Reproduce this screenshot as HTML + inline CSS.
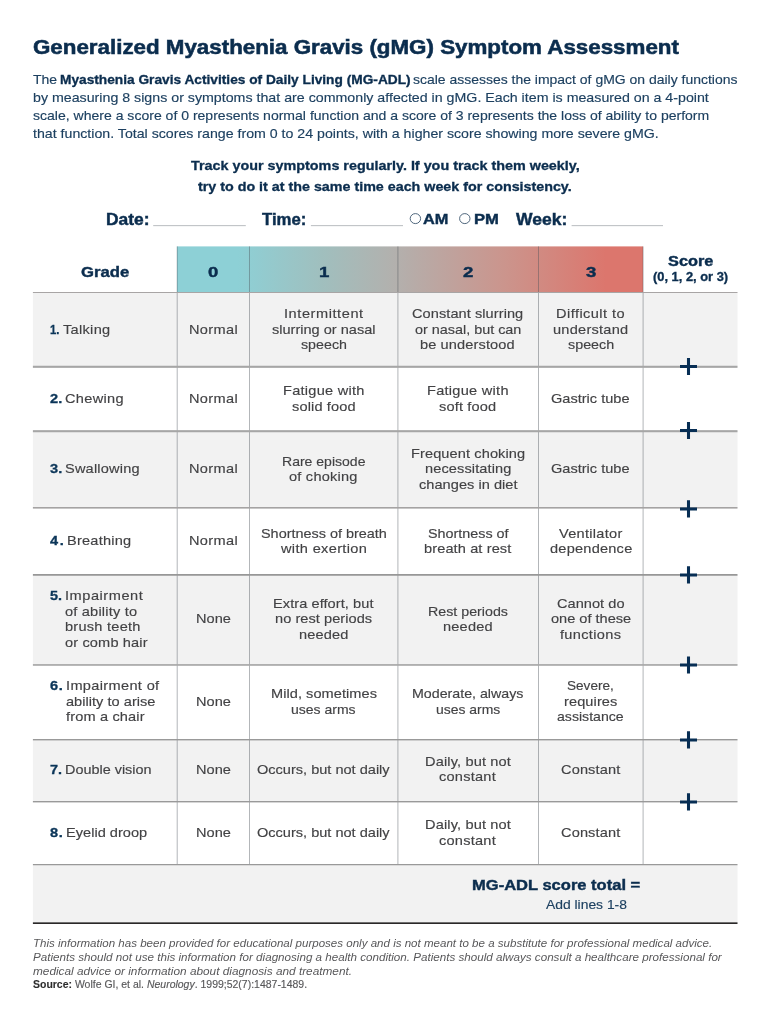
<!DOCTYPE html>
<html lang="en">
<head>
<meta charset="utf-8">
<title>Generalized Myasthenia Gravis (gMG) Symptom Assessment</title>
<style>
html,body{margin:0;padding:0;background:#fff;}
body{width:770px;height:1024px;position:relative;overflow:hidden;font-family:"Liberation Sans",sans-serif;}
#txt{position:absolute;left:0;top:0;width:770px;height:1024px;will-change:transform;}
.t{position:absolute;white-space:pre;line-height:1;transform-origin:0 0;font-family:"Liberation Sans",sans-serif;}
</style>
</head>
<body>
<svg width="770" height="1024" viewBox="0 0 770 1024" style="position:absolute;left:0;top:0">
<defs><linearGradient id="g" x1="0" y1="0" x2="1" y2="0"><stop offset="0" stop-color="#8dd0d6"/><stop offset="0.13" stop-color="#8dd0d6"/><stop offset="0.31" stop-color="#a0bfbe"/><stop offset="0.47" stop-color="#b3b0ad"/><stop offset="0.70" stop-color="#cb958d"/><stop offset="0.92" stop-color="#dc766d"/><stop offset="1" stop-color="#dc766d"/></linearGradient></defs>
<rect x="32.9" y="292.5" width="704.6" height="74.3" fill="#f2f2f2"/>
<rect x="32.9" y="431.2" width="704.6" height="76.6" fill="#f2f2f2"/>
<rect x="32.9" y="574.9" width="704.6" height="90.1" fill="#f2f2f2"/>
<rect x="32.9" y="739.7" width="704.6" height="62.0" fill="#f2f2f2"/>
<rect x="32.9" y="864.6" width="704.6" height="58.6" fill="#f2f2f2"/>
<rect x="177.0" y="246.4" width="466.0" height="46.1" fill="url(#g)"/>
<rect x="176.7" y="246.4" width="1" height="618.2" fill="#4a5058" fill-opacity="0.42"/>
<rect x="249.0" y="246.4" width="1" height="618.2" fill="#4a5058" fill-opacity="0.42"/>
<rect x="397.4" y="246.4" width="1" height="618.2" fill="#4a5058" fill-opacity="0.42"/>
<rect x="538.0" y="246.4" width="1" height="618.2" fill="#4a5058" fill-opacity="0.42"/>
<rect x="642.6" y="246.4" width="1" height="618.2" fill="#4a5058" fill-opacity="0.42"/>
<rect x="32.9" y="292.0" width="704.6" height="1.00" fill="#a8a5a5"/>
<rect x="32.9" y="365.75" width="704.6" height="2.10" fill="#a6a6a6"/>
<rect x="32.9" y="430.15" width="704.6" height="2.10" fill="#a6a6a6"/>
<rect x="32.9" y="507.0" width="704.6" height="1.60" fill="#a5a3a3"/>
<rect x="32.9" y="574.0" width="704.6" height="1.75" fill="#979797"/>
<rect x="32.9" y="664.1" width="704.6" height="1.70" fill="#a8a8a8"/>
<rect x="32.9" y="739.0" width="704.6" height="1.40" fill="#999999"/>
<rect x="32.9" y="801.0" width="704.6" height="1.40" fill="#999999"/>
<rect x="32.9" y="864.0" width="704.6" height="1.25" fill="#999999"/>
<rect x="32.9" y="922.35" width="704.6" height="1.65" fill="#2a2828"/>
<path d="M680.0 366.45H697.0M688.5 357.9V375.0" stroke="#072e54" stroke-width="3.05" fill="none"/>
<path d="M680.0 430.45H697.0M688.5 421.9V439.0" stroke="#072e54" stroke-width="3.05" fill="none"/>
<path d="M680.0 508.9H697.0M688.5 500.35V517.45" stroke="#072e54" stroke-width="3.05" fill="none"/>
<path d="M680.0 574.9H697.0M688.5 566.35V583.45" stroke="#072e54" stroke-width="3.05" fill="none"/>
<path d="M680.0 664.95H697.0M688.5 656.4V673.5" stroke="#072e54" stroke-width="3.05" fill="none"/>
<path d="M680.0 739.9H697.0M688.5 731.35V748.45" stroke="#072e54" stroke-width="3.05" fill="none"/>
<path d="M680.0 801.9H697.0M688.5 793.35V810.45" stroke="#072e54" stroke-width="3.05" fill="none"/>
<rect x="153.2" y="225.1" width="92.6" height="1.05" fill="#bcbfc2"/>
<rect x="310.9" y="225.1" width="92.1" height="1.05" fill="#bcbfc2"/>
<rect x="571.6" y="225.1" width="91.4" height="1.05" fill="#bcbfc2"/>
<ellipse cx="415.4" cy="218.6" rx="5.2" ry="5.0" fill="#fff" stroke="#3c566e" stroke-width="0.9"/>
<ellipse cx="464.8" cy="218.6" rx="5.2" ry="5.0" fill="#fff" stroke="#3c566e" stroke-width="0.9"/>
</svg>
<div id="txt">
<span class="t" style="left:32.90px;top:37px;font-size:20px;color:#0b2d4e;transform:scale(1.1168,1.000);transform-origin:0 17px;font-weight:700;-webkit-text-stroke:0.55px #0b2d4e;">Generalized Myasthenia Gravis (gMG) Symptom Assessment</span>
<span class="t" style="left:33.48px;top:73px;font-size:13px;color:#1d4060;transform:scale(1.0774,1.000);transform-origin:0 11px;-webkit-text-stroke:0.15px #1d4060;">The </span>
<span class="t" style="left:60.08px;top:73px;font-size:13px;color:#0b2d4e;transform:scale(1.0544,1.000);transform-origin:0 11px;font-weight:700;-webkit-text-stroke:0.32px #0b2d4e;">Myasthenia Gravis Activities of Daily Living (MG-ADL)</span>
<span class="t" style="left:413.49px;top:73px;font-size:13px;color:#1d4060;transform:scale(1.0741,1.000);transform-origin:0 11px;-webkit-text-stroke:0.15px #1d4060;">scale assesses the impact of gMG on daily functions</span>
<span class="t" style="left:33.48px;top:91px;font-size:13px;color:#1d4060;transform:scale(1.0931,1.000);transform-origin:0 11px;-webkit-text-stroke:0.15px #1d4060;">by measuring 8 signs or symptoms that are commonly affected in gMG. Each item is measured on a 4-point</span>
<span class="t" style="left:33.48px;top:109px;font-size:13px;color:#1d4060;transform:scale(1.0794,1.000);transform-origin:0 11px;-webkit-text-stroke:0.15px #1d4060;">scale, where a score of 0 represents normal function and a score of 3 represents the loss of ability to perform</span>
<span class="t" style="left:33.48px;top:127px;font-size:13px;color:#1d4060;transform:scale(1.0897,1.000);transform-origin:0 11px;-webkit-text-stroke:0.15px #1d4060;">that function. Total scores range from 0 to 24 points, with a higher score showing more severe gMG.</span>
<span class="t" style="left:191.28px;top:159px;font-size:13px;color:#0b2d4e;transform:scale(1.1040,1.000);transform-origin:0 11px;font-weight:700;-webkit-text-stroke:0.32px #0b2d4e;">Track your symptoms regularly. If you track them weekly,</span>
<span class="t" style="left:197.88px;top:180px;font-size:13px;color:#0b2d4e;transform:scale(1.0991,1.000);transform-origin:0 11px;font-weight:700;-webkit-text-stroke:0.32px #0b2d4e;">try to do it at the same time each week for consistency.</span>
<span class="t" style="left:106.12px;top:212px;font-size:16px;color:#0b2d4e;transform:scale(1.0886,1.030);transform-origin:0 13px;font-weight:700;-webkit-text-stroke:0.42px #0b2d4e;">Date:</span>
<span class="t" style="left:262.32px;top:212px;font-size:16px;color:#0b2d4e;transform:scale(1.0465,1.030);transform-origin:0 13px;font-weight:700;-webkit-text-stroke:0.42px #0b2d4e;">Time:</span>
<span class="t" style="left:423.48px;top:211px;font-size:15px;color:#0b2d4e;transform:scale(1.0910,1.000);transform-origin:0 13px;font-weight:700;-webkit-text-stroke:0.42px #0b2d4e;">AM</span>
<span class="t" style="left:474.18px;top:211px;font-size:15px;color:#0b2d4e;transform:scale(1.1089,1.000);transform-origin:0 13px;font-weight:700;-webkit-text-stroke:0.42px #0b2d4e;">PM</span>
<span class="t" style="left:516.12px;top:212px;font-size:16px;color:#0b2d4e;transform:scale(1.0943,1.030);transform-origin:0 13px;font-weight:700;-webkit-text-stroke:0.42px #0b2d4e;">Week:</span>
<span class="t" style="left:80.58px;top:264px;font-size:15px;color:#0b2d4e;transform:scale(1.1105,1.030);transform-origin:0 13px;font-weight:700;-webkit-text-stroke:0.42px #0b2d4e;">Grade</span>
<span class="t" style="left:208.08px;top:264px;font-size:15px;color:#0b2d4e;transform:scale(1.2400,1.030);transform-origin:0 13px;font-weight:700;-webkit-text-stroke:0.42px #0b2d4e;">0</span>
<span class="t" style="left:318.53px;top:264px;font-size:15px;color:#0b2d4e;transform:scale(1.2400,1.030);transform-origin:0 13px;font-weight:700;-webkit-text-stroke:0.42px #0b2d4e;">1</span>
<span class="t" style="left:463.03px;top:264px;font-size:15px;color:#0b2d4e;transform:scale(1.2400,1.030);transform-origin:0 13px;font-weight:700;-webkit-text-stroke:0.42px #0b2d4e;">2</span>
<span class="t" style="left:585.58px;top:264px;font-size:15px;color:#0b2d4e;transform:scale(1.2400,1.030);transform-origin:0 13px;font-weight:700;-webkit-text-stroke:0.42px #0b2d4e;">3</span>
<span class="t" style="left:667.53px;top:253px;font-size:15px;color:#0b2d4e;transform:scale(1.0874,1.030);transform-origin:0 13px;font-weight:700;-webkit-text-stroke:0.42px #0b2d4e;">Score</span>
<span class="t" style="left:652.74px;top:271px;font-size:12px;color:#0b2d4e;transform:scale(1.0727,1.000);transform-origin:0 10px;font-weight:700;-webkit-text-stroke:0.32px #0b2d4e;">(0, 1, 2, or 3)</span>
<span class="t" style="left:62.88px;top:323px;font-size:13px;color:#424244;letter-spacing:0.269px;transform:scale(1.1200,1.000);transform-origin:0 11px;-webkit-text-stroke:0.15px #424244;">Talking</span>
<span class="t" style="left:50.18px;top:323px;font-size:13px;color:#0b3558;transform:scale(0.8696,1.000);transform-origin:0 11px;font-weight:700;-webkit-text-stroke:0.32px #0b3558;">1.</span>
<span class="t" style="left:188.94px;top:323px;font-size:13px;color:#424244;letter-spacing:0.303px;transform:scale(1.1200,1.000);transform-origin:0 11px;-webkit-text-stroke:0.15px #424244;">Normal</span>
<span class="t" style="left:284.13px;top:307px;font-size:13px;color:#424244;letter-spacing:0.511px;transform:scale(1.1200,1.000);transform-origin:0 11px;-webkit-text-stroke:0.15px #424244;">Intermittent</span>
<span class="t" style="left:271.94px;top:323px;font-size:13px;color:#424244;transform:scale(1.1192,1.000);transform-origin:0 11px;-webkit-text-stroke:0.15px #424244;">slurring or nasal</span>
<span class="t" style="left:300.74px;top:338px;font-size:13px;color:#424244;transform:scale(1.0956,1.000);transform-origin:0 11px;-webkit-text-stroke:0.15px #424244;">speech</span>
<span class="t" style="left:412.19px;top:307px;font-size:13px;color:#424244;letter-spacing:0.064px;transform:scale(1.1200,1.000);transform-origin:0 11px;-webkit-text-stroke:0.15px #424244;">Constant slurring</span>
<span class="t" style="left:414.63px;top:323px;font-size:13px;color:#424244;transform:scale(1.1062,1.000);transform-origin:0 11px;-webkit-text-stroke:0.15px #424244;">or nasal, but can</span>
<span class="t" style="left:420.49px;top:338px;font-size:13px;color:#424244;letter-spacing:0.114px;transform:scale(1.1200,1.000);transform-origin:0 11px;-webkit-text-stroke:0.15px #424244;">be understood</span>
<span class="t" style="left:556.43px;top:307px;font-size:13px;color:#424244;letter-spacing:0.403px;transform:scale(1.1200,1.000);transform-origin:0 11px;-webkit-text-stroke:0.15px #424244;">Difficult to</span>
<span class="t" style="left:553.18px;top:323px;font-size:13px;color:#424244;letter-spacing:0.224px;transform:scale(1.1200,1.000);transform-origin:0 11px;-webkit-text-stroke:0.15px #424244;">understand</span>
<span class="t" style="left:567.63px;top:338px;font-size:13px;color:#424244;transform:scale(1.1028,1.000);transform-origin:0 11px;-webkit-text-stroke:0.15px #424244;">speech</span>
<span class="t" style="left:64.58px;top:392px;font-size:13px;color:#424244;letter-spacing:0.278px;transform:scale(1.1200,1.000);transform-origin:0 11px;-webkit-text-stroke:0.15px #424244;">Chewing</span>
<span class="t" style="left:50.18px;top:392px;font-size:13px;color:#0b3558;letter-spacing:0.165px;transform:scale(1.1200,1.000);transform-origin:0 11px;font-weight:700;-webkit-text-stroke:0.32px #0b3558;">2.</span>
<span class="t" style="left:188.94px;top:392px;font-size:13px;color:#424244;letter-spacing:0.303px;transform:scale(1.1200,1.000);transform-origin:0 11px;-webkit-text-stroke:0.15px #424244;">Normal</span>
<span class="t" style="left:283.03px;top:384px;font-size:13px;color:#424244;letter-spacing:0.229px;transform:scale(1.1200,1.000);transform-origin:0 11px;-webkit-text-stroke:0.15px #424244;">Fatigue with</span>
<span class="t" style="left:291.94px;top:400px;font-size:13px;color:#424244;letter-spacing:0.119px;transform:scale(1.1200,1.000);transform-origin:0 11px;-webkit-text-stroke:0.15px #424244;">solid food</span>
<span class="t" style="left:427.04px;top:384px;font-size:13px;color:#424244;letter-spacing:0.246px;transform:scale(1.1200,1.000);transform-origin:0 11px;-webkit-text-stroke:0.15px #424244;">Fatigue with</span>
<span class="t" style="left:439.24px;top:400px;font-size:13px;color:#424244;letter-spacing:0.142px;transform:scale(1.1200,1.000);transform-origin:0 11px;-webkit-text-stroke:0.15px #424244;">soft food</span>
<span class="t" style="left:551.49px;top:392px;font-size:13px;color:#424244;transform:scale(1.1200,1.000);transform-origin:0 11px;-webkit-text-stroke:0.15px #424244;">Gastric tube</span>
<span class="t" style="left:64.58px;top:462px;font-size:13px;color:#424244;letter-spacing:0.166px;transform:scale(1.1200,1.000);transform-origin:0 11px;-webkit-text-stroke:0.15px #424244;">Swallowing</span>
<span class="t" style="left:50.18px;top:462px;font-size:13px;color:#0b3558;letter-spacing:0.165px;transform:scale(1.1200,1.000);transform-origin:0 11px;font-weight:700;-webkit-text-stroke:0.32px #0b3558;">3.</span>
<span class="t" style="left:188.94px;top:462px;font-size:13px;color:#424244;letter-spacing:0.303px;transform:scale(1.1200,1.000);transform-origin:0 11px;-webkit-text-stroke:0.15px #424244;">Normal</span>
<span class="t" style="left:281.99px;top:455px;font-size:13px;color:#424244;transform:scale(1.0789,1.000);transform-origin:0 11px;-webkit-text-stroke:0.15px #424244;">Rare episode</span>
<span class="t" style="left:289.49px;top:470px;font-size:13px;color:#424244;letter-spacing:0.204px;transform:scale(1.1200,1.000);transform-origin:0 11px;-webkit-text-stroke:0.15px #424244;">of choking</span>
<span class="t" style="left:410.74px;top:447px;font-size:13px;color:#424244;letter-spacing:0.097px;transform:scale(1.1200,1.000);transform-origin:0 11px;-webkit-text-stroke:0.15px #424244;">Frequent choking</span>
<span class="t" style="left:424.59px;top:462px;font-size:13px;color:#424244;letter-spacing:0.107px;transform:scale(1.1200,1.000);transform-origin:0 11px;-webkit-text-stroke:0.15px #424244;">necessitating</span>
<span class="t" style="left:418.54px;top:478px;font-size:13px;color:#424244;letter-spacing:0.037px;transform:scale(1.1200,1.000);transform-origin:0 11px;-webkit-text-stroke:0.15px #424244;">changes in diet</span>
<span class="t" style="left:551.49px;top:462px;font-size:13px;color:#424244;transform:scale(1.1200,1.000);transform-origin:0 11px;-webkit-text-stroke:0.15px #424244;">Gastric tube</span>
<span class="t" style="left:67.19px;top:534px;font-size:13px;color:#424244;letter-spacing:0.211px;transform:scale(1.1200,1.000);transform-origin:0 11px;-webkit-text-stroke:0.15px #424244;">Breathing</span>
<span class="t" style="left:50.18px;top:534px;font-size:13px;color:#0b3558;letter-spacing:1.415px;transform:scale(1.1200,1.000);transform-origin:0 11px;font-weight:700;-webkit-text-stroke:0.32px #0b3558;">4.</span>
<span class="t" style="left:188.94px;top:534px;font-size:13px;color:#424244;letter-spacing:0.303px;transform:scale(1.1200,1.000);transform-origin:0 11px;-webkit-text-stroke:0.15px #424244;">Normal</span>
<span class="t" style="left:260.78px;top:527px;font-size:13px;color:#424244;transform:scale(1.1089,1.000);transform-origin:0 11px;-webkit-text-stroke:0.15px #424244;">Shortness of breath</span>
<span class="t" style="left:280.78px;top:542px;font-size:13px;color:#424244;letter-spacing:0.304px;transform:scale(1.1200,1.000);transform-origin:0 11px;-webkit-text-stroke:0.15px #424244;">with exertion</span>
<span class="t" style="left:427.54px;top:527px;font-size:13px;color:#424244;transform:scale(1.1032,1.000);transform-origin:0 11px;-webkit-text-stroke:0.15px #424244;">Shortness of</span>
<span class="t" style="left:424.13px;top:542px;font-size:13px;color:#424244;letter-spacing:0.105px;transform:scale(1.1200,1.000);transform-origin:0 11px;-webkit-text-stroke:0.15px #424244;">breath at rest</span>
<span class="t" style="left:559.13px;top:527px;font-size:13px;color:#424244;letter-spacing:0.250px;transform:scale(1.1200,1.000);transform-origin:0 11px;-webkit-text-stroke:0.15px #424244;">Ventilator</span>
<span class="t" style="left:549.63px;top:542px;font-size:13px;color:#424244;letter-spacing:0.205px;transform:scale(1.1200,1.000);transform-origin:0 11px;-webkit-text-stroke:0.15px #424244;">dependence</span>
<span class="t" style="left:64.58px;top:589px;font-size:13px;color:#424244;letter-spacing:0.486px;transform:scale(1.1200,1.000);transform-origin:0 11px;-webkit-text-stroke:0.15px #424244;">Impairment</span>
<span class="t" style="left:64.58px;top:605px;font-size:13px;color:#424244;letter-spacing:0.180px;transform:scale(1.1200,1.000);transform-origin:0 11px;-webkit-text-stroke:0.15px #424244;">of ability to</span>
<span class="t" style="left:64.58px;top:620px;font-size:13px;color:#424244;letter-spacing:0.230px;transform:scale(1.1200,1.000);transform-origin:0 11px;-webkit-text-stroke:0.15px #424244;">brush teeth</span>
<span class="t" style="left:64.58px;top:636px;font-size:13px;color:#424244;letter-spacing:0.131px;transform:scale(1.1200,1.000);transform-origin:0 11px;-webkit-text-stroke:0.15px #424244;">or comb hair</span>
<span class="t" style="left:50.18px;top:589px;font-size:13px;color:#0b3558;transform:scale(1.1094,1.000);transform-origin:0 11px;font-weight:700;-webkit-text-stroke:0.32px #0b3558;">5.</span>
<span class="t" style="left:195.84px;top:612px;font-size:13px;color:#424244;letter-spacing:0.007px;transform:scale(1.1200,1.000);transform-origin:0 11px;-webkit-text-stroke:0.15px #424244;">None</span>
<span class="t" style="left:273.49px;top:597px;font-size:13px;color:#424244;letter-spacing:0.064px;transform:scale(1.1200,1.000);transform-origin:0 11px;-webkit-text-stroke:0.15px #424244;">Extra effort, but</span>
<span class="t" style="left:275.13px;top:612px;font-size:13px;color:#424244;letter-spacing:0.052px;transform:scale(1.1200,1.000);transform-origin:0 11px;-webkit-text-stroke:0.15px #424244;">no rest periods</span>
<span class="t" style="left:299.03px;top:628px;font-size:13px;color:#424244;letter-spacing:0.131px;transform:scale(1.1200,1.000);transform-origin:0 11px;-webkit-text-stroke:0.15px #424244;">needed</span>
<span class="t" style="left:427.84px;top:605px;font-size:13px;color:#424244;transform:scale(1.0952,1.000);transform-origin:0 11px;-webkit-text-stroke:0.15px #424244;">Rest periods</span>
<span class="t" style="left:442.99px;top:620px;font-size:13px;color:#424244;letter-spacing:0.184px;transform:scale(1.1200,1.000);transform-origin:0 11px;-webkit-text-stroke:0.15px #424244;">needed</span>
<span class="t" style="left:556.99px;top:597px;font-size:13px;color:#424244;letter-spacing:0.037px;transform:scale(1.1200,1.000);transform-origin:0 11px;-webkit-text-stroke:0.15px #424244;">Cannot do</span>
<span class="t" style="left:550.63px;top:612px;font-size:13px;color:#424244;letter-spacing:0.006px;transform:scale(1.1200,1.000);transform-origin:0 11px;-webkit-text-stroke:0.15px #424244;">one of these</span>
<span class="t" style="left:560.28px;top:628px;font-size:13px;color:#424244;letter-spacing:0.294px;transform:scale(1.1200,1.000);transform-origin:0 11px;-webkit-text-stroke:0.15px #424244;">functions</span>
<span class="t" style="left:65.69px;top:679px;font-size:13px;color:#424244;letter-spacing:0.306px;transform:scale(1.1200,1.000);transform-origin:0 11px;-webkit-text-stroke:0.15px #424244;">Impairment of</span>
<span class="t" style="left:65.69px;top:695px;font-size:13px;color:#424244;letter-spacing:0.024px;transform:scale(1.1200,1.000);transform-origin:0 11px;-webkit-text-stroke:0.15px #424244;">ability to arise</span>
<span class="t" style="left:65.69px;top:710px;font-size:13px;color:#424244;letter-spacing:0.142px;transform:scale(1.1200,1.000);transform-origin:0 11px;-webkit-text-stroke:0.15px #424244;">from a chair</span>
<span class="t" style="left:50.18px;top:679px;font-size:13px;color:#0b3558;letter-spacing:0.612px;transform:scale(1.1200,1.000);transform-origin:0 11px;font-weight:700;-webkit-text-stroke:0.32px #0b3558;">6.</span>
<span class="t" style="left:195.84px;top:695px;font-size:13px;color:#424244;letter-spacing:0.007px;transform:scale(1.1200,1.000);transform-origin:0 11px;-webkit-text-stroke:0.15px #424244;">None</span>
<span class="t" style="left:270.74px;top:687px;font-size:13px;color:#424244;letter-spacing:0.047px;transform:scale(1.1200,1.000);transform-origin:0 11px;-webkit-text-stroke:0.15px #424244;">Mild, sometimes</span>
<span class="t" style="left:291.44px;top:703px;font-size:13px;color:#424244;transform:scale(1.0761,1.000);transform-origin:0 11px;-webkit-text-stroke:0.15px #424244;">uses arms</span>
<span class="t" style="left:412.09px;top:687px;font-size:13px;color:#424244;transform:scale(1.0936,1.000);transform-origin:0 11px;-webkit-text-stroke:0.15px #424244;">Moderate, always</span>
<span class="t" style="left:435.63px;top:703px;font-size:13px;color:#424244;transform:scale(1.0727,1.000);transform-origin:0 11px;-webkit-text-stroke:0.15px #424244;">uses arms</span>
<span class="t" style="left:567.34px;top:679px;font-size:13px;color:#424244;transform:scale(1.0450,1.000);transform-origin:0 11px;-webkit-text-stroke:0.15px #424244;">Severe,</span>
<span class="t" style="left:564.09px;top:695px;font-size:13px;color:#424244;letter-spacing:0.092px;transform:scale(1.1200,1.000);transform-origin:0 11px;-webkit-text-stroke:0.15px #424244;">requires</span>
<span class="t" style="left:557.43px;top:710px;font-size:13px;color:#424244;transform:scale(1.0848,1.000);transform-origin:0 11px;-webkit-text-stroke:0.15px #424244;">assistance</span>
<span class="t" style="left:65.19px;top:763px;font-size:13px;color:#424244;transform:scale(1.1087,1.000);transform-origin:0 11px;-webkit-text-stroke:0.15px #424244;">Double vision</span>
<span class="t" style="left:50.18px;top:763px;font-size:13px;color:#0b3558;transform:scale(1.1094,1.000);transform-origin:0 11px;font-weight:700;-webkit-text-stroke:0.32px #0b3558;">7.</span>
<span class="t" style="left:195.84px;top:763px;font-size:13px;color:#424244;letter-spacing:0.007px;transform:scale(1.1200,1.000);transform-origin:0 11px;-webkit-text-stroke:0.15px #424244;">None</span>
<span class="t" style="left:257.38px;top:763px;font-size:13px;color:#424244;transform:scale(1.1192,1.000);transform-origin:0 11px;-webkit-text-stroke:0.15px #424244;">Occurs, but not daily</span>
<span class="t" style="left:424.88px;top:755px;font-size:13px;color:#424244;letter-spacing:0.132px;transform:scale(1.1200,1.000);transform-origin:0 11px;-webkit-text-stroke:0.15px #424244;">Daily, but not</span>
<span class="t" style="left:439.44px;top:770px;font-size:13px;color:#424244;letter-spacing:0.214px;transform:scale(1.1200,1.000);transform-origin:0 11px;-webkit-text-stroke:0.15px #424244;">constant</span>
<span class="t" style="left:561.13px;top:763px;font-size:13px;color:#424244;letter-spacing:0.120px;transform:scale(1.1200,1.000);transform-origin:0 11px;-webkit-text-stroke:0.15px #424244;">Constant</span>
<span class="t" style="left:65.98px;top:826px;font-size:13px;color:#424244;letter-spacing:0.014px;transform:scale(1.1200,1.000);transform-origin:0 11px;-webkit-text-stroke:0.15px #424244;">Eyelid droop</span>
<span class="t" style="left:50.18px;top:826px;font-size:13px;color:#0b3558;letter-spacing:0.612px;transform:scale(1.1200,1.000);transform-origin:0 11px;font-weight:700;-webkit-text-stroke:0.32px #0b3558;">8.</span>
<span class="t" style="left:195.84px;top:826px;font-size:13px;color:#424244;letter-spacing:0.007px;transform:scale(1.1200,1.000);transform-origin:0 11px;-webkit-text-stroke:0.15px #424244;">None</span>
<span class="t" style="left:257.38px;top:826px;font-size:13px;color:#424244;transform:scale(1.1192,1.000);transform-origin:0 11px;-webkit-text-stroke:0.15px #424244;">Occurs, but not daily</span>
<span class="t" style="left:424.88px;top:818px;font-size:13px;color:#424244;letter-spacing:0.132px;transform:scale(1.1200,1.000);transform-origin:0 11px;-webkit-text-stroke:0.15px #424244;">Daily, but not</span>
<span class="t" style="left:439.44px;top:834px;font-size:13px;color:#424244;letter-spacing:0.214px;transform:scale(1.1200,1.000);transform-origin:0 11px;-webkit-text-stroke:0.15px #424244;">constant</span>
<span class="t" style="left:561.13px;top:826px;font-size:13px;color:#424244;letter-spacing:0.120px;transform:scale(1.1200,1.000);transform-origin:0 11px;-webkit-text-stroke:0.15px #424244;">Constant</span>
<span class="t" style="left:471.68px;top:877px;font-size:15px;color:#0b2d4e;transform:scale(1.1020,1.030);transform-origin:0 13px;font-weight:700;-webkit-text-stroke:0.42px #0b2d4e;">MG-ADL score total =</span>
<span class="t" style="left:546.08px;top:898px;font-size:13px;color:#1d4060;transform:scale(1.0664,1.000);transform-origin:0 11px;-webkit-text-stroke:0.15px #1d4060;">Add lines 1-8</span>
<span class="t" style="left:33.01px;top:938px;font-size:10.8px;color:#58585a;transform:scale(1.0696,1.000);transform-origin:0 9px;font-style:italic;">This information has been provided for educational purposes only and is not meant to be a substitute for professional medical advice.</span>
<span class="t" style="left:33.01px;top:952px;font-size:10.8px;color:#58585a;transform:scale(1.0775,1.000);transform-origin:0 9px;font-style:italic;">Patients should not use this information for diagnosing a health condition. Patients should always consult a healthcare professional for</span>
<span class="t" style="left:33.01px;top:966px;font-size:10.8px;color:#58585a;transform:scale(1.0939,1.000);transform-origin:0 9px;font-style:italic;">medical advice or information about diagnosis and treatment.</span>
<span class="t" style="left:33.01px;top:979px;font-size:10.8px;color:#58585a;transform:scale(0.9702,1.000);transform-origin:0 9px;-webkit-text-stroke:0.15px #58585a;"><b style="color:#2a2a2a">Source:</b> Wolfe GI, et al. <i>Neurology</i>. 1999;52(7):1487-1489.</span>
</div>
</body>
</html>
